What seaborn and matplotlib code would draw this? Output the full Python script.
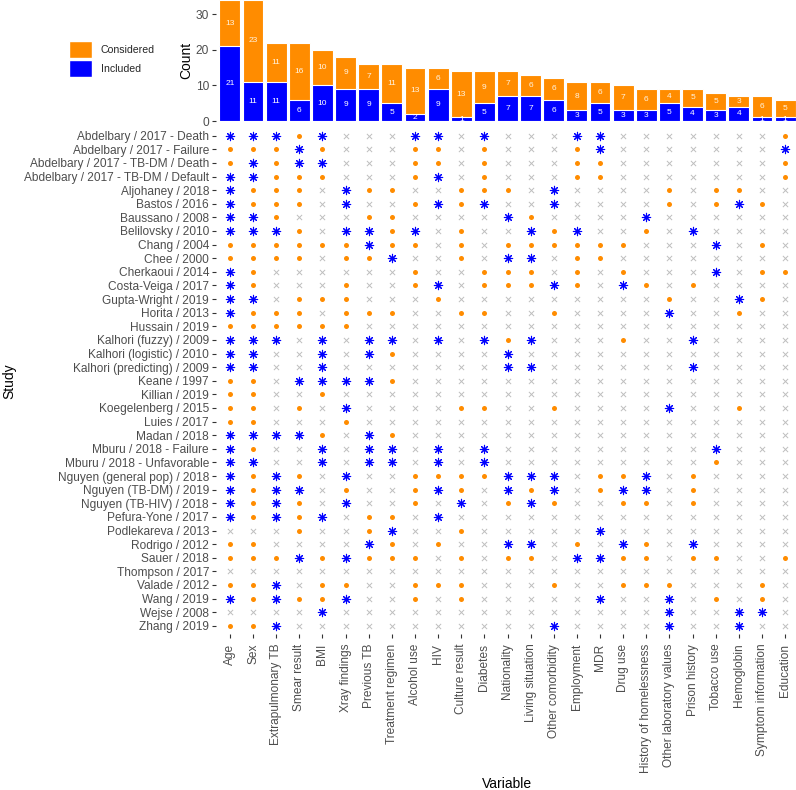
import pandas as pd
import matplotlib
matplotlib.use("Agg")
import matplotlib.pyplot as plt
from matplotlib.patches import Patch
import seaborn as sns

# Variables, in the order shown (sorted by how often they appear)
variables = ["Age", "Sex", "Extrapulmonary TB", "Smear result", "BMI",
             "Xray findings", "Previous TB", "Treatment regimen", "Alcohol use",
             "HIV", "Culture result", "Diabetes", "Nationality", "Living situation",
             "Other comorbidity", "Employment", "MDR", "Drug use",
             "History of homelessness", "Other laboratory values", "Prison history",
             "Tobacco use", "Hemoglobin", "Symptom information", "Education"]

studies = ["Abdelbary / 2017 - Death", "Abdelbary / 2017 - Failure",
           "Abdelbary / 2017 - TB-DM / Death", "Abdelbary / 2017 - TB-DM / Default",
           "Aljohaney / 2018", "Bastos / 2016", "Baussano / 2008", "Belilovsky / 2010",
           "Chang / 2004", "Chee / 2000", "Cherkaoui / 2014", "Costa-Veiga / 2017",
           "Gupta-Wright / 2019", "Horita / 2013", "Hussain / 2019",
           "Kalhori (fuzzy) / 2009", "Kalhori (logistic) / 2010",
           "Kalhori (predicting) / 2009", "Keane / 1997", "Killian / 2019",
           "Koegelenberg / 2015", "Luies / 2017", "Madan / 2018",
           "Mburu / 2018 - Failure", "Mburu / 2018 - Unfavorable",
           "Nguyen (general pop) / 2018", "Nguyen (TB-DM) / 2019",
           "Nguyen (TB-HIV) / 2018", "Pefura-Yone / 2017", "Podlekareva / 2013",
           "Rodrigo / 2012", "Sauer / 2018", "Thompson / 2017", "Valade / 2012",
           "Wang / 2019", "Wejse / 2008", "Zhang / 2019"]

# One code per variable: I = included, C = considered, X = not considered
status = ["IIICIXXXIIXIXXXIIXXXXXXXC",
          "CCCICXXXCCXCXXXCIXXXXXXXI",
          "CICIIXXXCCXCXXXCCXXXXXXXC",
          "IICCCXXXCIXCXXXCCXXXXXXXC",
          "ICCCXICCXXCCCXIXXXXCXCCXX",
          "ICCCXIXXCICIXXIXXXXCXCICX",
          "IICXXXCCXXXXICXXXXIXXXXXX",
          "IIICXIICIXCXXICIXXCXIXXXX",
          "CCCCCCICCXCXCCCCCCXXXIXCX",
          "CCCCXCCIXXCXIIXCCXXXXXXXX",
          "ICXXXXXXCXXCCCXCXCXXXIXCC",
          "ICXXXCXXCIXCCCICXICXCXXXX",
          "IIXCCCXXXCXXXXXXXXXCXXICX",
          "ICCCXCCCXXCCXXCXXXXIXXCXX",
          "CCCCCCXXXXXXXXXXXXXXXXXXX",
          "IIIXIXIIXIXICIXXXCXXIXXXX",
          "IIXXIXICXXXXIXXXXXXXXXXXX",
          "IIXXIXXXXXXXIIXXXXXXIXXXX",
          "CCXIIIICXXXXXXXXXXXXXXXXX",
          "CCXXCXXXXXXXXXXXXXXXXXXXX",
          "CCXCXIXXXXCCXXCXXXXIXXCXX",
          "CCXXXCXXXXXXXXXXXXXXXXXXX",
          "IIIICXICXXXXXXXXXXXXXXXXX",
          "ICXXIXIIXIXIXXXXXXXXXIXXX",
          "IIXXIXIIXIXIXXXXXXXXXCXXX",
          "ICICXIXXCCCCIIIXCCIXCXXXX",
          "ICIIXCXXCICXICIXCIIXCXXXX",
          "ICICXIXXCXIXCICXXCCXCXXXX",
          "ICICIXCCXIXXXXXXXXXXXXXXX",
          "XXXCXXCIXXCXXXXXIXXXXXXXX",
          "CCXXXXICXCXXIIXCXICXIXXXX",
          "CCCICICCCXCXCCXIICCXCCXXC",
          "XXXXXXXXXXXXXXXXXXXXXXXXX",
          "CCIXCCXXCCCXXXCXXCCCXXXCX",
          "ICICCIXXCXCXXXXXIXXIXCXCX",
          "XXXXIXXXXXXXXXXXXXXIXXIIX",
          "CCIXXXXXXXXXXXIXXXXIXXIXX"]

blue = "#0000FF"
orange = "#FF8C00"
grey_x = "#BEBEBE"
tick_col = "#4D4D4D"

sns.set_theme(style="ticks")
plt.rcParams['font.family'] = ['Liberation Sans', 'DejaVu Sans']

# long table of study x variable
rows = []
for i, (study, codes) in enumerate(zip(studies, status)):
    for j, (var, code) in enumerate(zip(variables, codes)):
        rows.append({"Study": study, "Variable": var, "Status": code, "x": j, "y": i})
df = pd.DataFrame(rows)

counts = (df.groupby(["Variable", "Status"]).size().unstack(fill_value=0)
          .reindex(variables).reset_index())
counts["Total"] = counts["I"] + counts["C"]

fig = plt.figure(figsize=(7.96, 7.90), dpi=100)
W, H = 796, 790
left_px, right_px = 216, 799
mat_top, mat_bot = 127.5, 634
ax_bar = fig.add_axes([left_px / W, 1 - 121 / H, (right_px - left_px) / W, 121 / H])
ax_mat = fig.add_axes([left_px / W, 1 - mat_bot / H, (right_px - left_px) / W,
                       (mat_bot - mat_top) / H])

# --- top: stacked counts ---
sns.barplot(data=counts, x="Variable", y="Total", order=variables, color=orange,
            saturation=1, width=0.9, edgecolor="white", linewidth=0.8, ax=ax_bar)
sns.barplot(data=counts, x="Variable", y="I", order=variables, color=blue,
            saturation=1, width=0.9, edgecolor="white", linewidth=0.8, ax=ax_bar)
for j, r in counts.iterrows():
    ax_bar.text(j, r["I"] / 2, str(r["I"]), ha="center", va="center",
                color="white", fontsize=6)
    ax_bar.text(j, r["I"] + r["C"] / 2, str(r["C"]), ha="center", va="center",
                color="#FFF3E0", fontsize=6)
ax_bar.set_xlim(-0.6, 24.6)
ax_bar.set_ylim(0, 34)
ax_bar.set_yticks([0, 10, 20, 30])
ax_bar.set_xlabel("")
ax_bar.set_ylabel("Count", fontsize=10, color="black")
ax_bar.yaxis.set_label_coords(-0.039, 0.5)
ax_bar.tick_params(axis="x", bottom=False, labelbottom=False)
ax_bar.tick_params(axis="y", length=3, width=0.8, color="#333333",
                   labelsize=8.6, labelcolor=tick_col, pad=2)
sns.despine(ax=ax_bar, left=True, bottom=True)

# --- bottom: study x variable matrix ---
sns.scatterplot(data=df[df.Status == "X"], x="x", y="y", marker="x", color=grey_x,
                s=14, linewidth=0.7, ax=ax_mat, legend=False)
sns.scatterplot(data=df[df.Status == "C"], x="x", y="y", marker="o", color=orange,
                s=13, linewidth=0, ax=ax_mat, legend=False)
sns.scatterplot(data=df[df.Status == "I"], x="x", y="y", marker=(8, 2, 0), color=blue,
                s=36, linewidth=0.8, ax=ax_mat, legend=False)
ax_mat.set_xlim(-0.6, 24.6)
ax_mat.set_ylim(len(studies) - 0.4, -0.6)
ax_mat.set_xticks(range(len(variables)))
ax_mat.set_xticklabels(variables, rotation=90)
ax_mat.set_yticks(range(len(studies)))
ax_mat.set_yticklabels(studies)
ax_mat.tick_params(length=3, width=0.8, color="#333333", labelsize=8.6,
                   labelcolor=tick_col, pad=2)
ax_mat.tick_params(axis="x", pad=4)
ax_mat.set_xlabel("Variable", fontsize=10, color="black")
ax_mat.set_ylabel("Study", fontsize=10, color="black")
ax_mat.xaxis.set_label_coords(0.5, (mat_bot - 777) / (mat_bot - mat_top))
ax_mat.yaxis.set_label_coords(-0.343, 0.5)
sns.despine(ax=ax_mat, left=True, bottom=True)

# legend
handles = [Patch(facecolor=orange, edgecolor="white", label="Considered"),
           Patch(facecolor=blue, edgecolor="white", label="Included")]
fig.legend(handles=handles, loc="upper left", bbox_to_anchor=(69 / W, 1 - 41 / H),
           frameon=False, fontsize=7.6, handlelength=2.15, handleheight=2.15,
           labelspacing=0.15, handletextpad=0.85, borderpad=0, borderaxespad=0)

fig.savefig("out.png", dpi=100)
